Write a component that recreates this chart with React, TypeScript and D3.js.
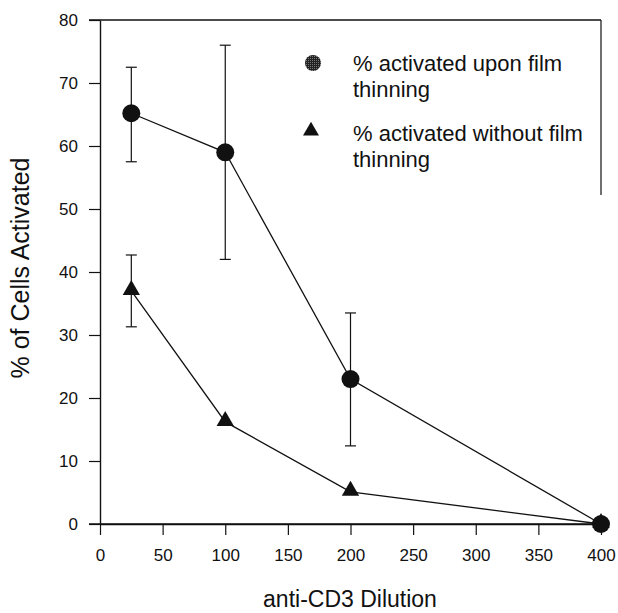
import React, { useEffect, useRef } from 'react';
import * as d3 from 'd3';

// anti-CD3 dilution
const dilutions = [25, 100, 200, 400];
// % activated upon film thinning
const thinningVals = [65.2, 59.0, 23.0, 0];
const thinningLow = [57.5, 42.0, 12.4, null];
const thinningHigh = [72.5, 76.0, 33.5, null];
// % activated without film thinning
const noThinningVals = [37.0, 16.2, 5.1, 0];
const noThinningLow = [31.3, null, null, null];
const noThinningHigh = [42.7, null, null, null];

const xTicks = [0, 50, 100, 150, 200, 250, 300, 350, 400];
const yTicks = [0, 10, 20, 30, 40, 50, 60, 70, 80];

const legendLabels = [
  ['% activated upon film', 'thinning'],
  ['% activated without film', 'thinning'],
];

export default function App() {
  const ref = useRef<SVGSVGElement>(null);

  useEffect(() => {
    const svg = d3.select(ref.current);
    svg.selectAll('*').remove();
    const font = 'Liberation Sans, Arial, Helvetica, sans-serif';

    const x = d3.scaleLinear().domain([0, 400]).range([100, 601]);
    const y = d3.scaleLinear().domain([0, 80]).range([524, 20]);

    // frame: top line and partial right line
    svg.append('line').attr('x1', 89).attr('x2', 601).attr('y1', 20).attr('y2', 20)
      .attr('stroke', '#111').attr('stroke-width', 1.3);
    svg.append('line').attr('x1', 601).attr('x2', 601).attr('y1', 20).attr('y2', 195)
      .attr('stroke', '#111').attr('stroke-width', 1.2);

    // y axis
    const yAxis = svg.append('g').attr('transform', 'translate(100,0)')
      .call(d3.axisLeft(y).tickValues(yTicks).tickSize(11).tickSizeOuter(0).tickPadding(11));
    // x axis
    const xAxis = svg.append('g').attr('transform', 'translate(0,524)')
      .call(d3.axisBottom(x).tickValues(xTicks).tickSize(11).tickSizeOuter(0).tickPadding(14));
    [xAxis, yAxis].forEach(a => {
      a.select('.domain').attr('stroke', '#111').attr('stroke-width', 1.4);
      a.selectAll('.tick line').attr('stroke', '#111').attr('stroke-width', 1.2);
      a.selectAll('.tick text').attr('font-family', font).attr('font-size', 17).attr('fill', '#111');
    });
    // x axis line extends a bit left of origin
    svg.append('line').attr('x1', 89).attr('x2', 601).attr('y1', 524).attr('y2', 524)
      .attr('stroke', '#111').attr('stroke-width', 1.4);

    // axis titles
    svg.append('text').attr('x', 350).attr('y', 607).attr('text-anchor', 'middle')
      .attr('font-family', font).attr('font-size', 23).attr('fill', '#111').text('anti-CD3 Dilution');
    svg.append('text').attr('transform', 'translate(29,268) rotate(-90)').attr('text-anchor', 'middle')
      .attr('font-family', font).attr('font-size', 25).attr('fill', '#111').text('% of Cells Activated');

    const line = d3.line<number>().x((d, i) => x(dilutions[i])).y(d => y(d));
    const tri = d3.symbol().type(d3.symbolTriangle).size(130);

    const drawSeries = (vals: number[], lo: (number | null)[], hi: (number | null)[], kind: string) => {
      const g = svg.append('g');
      g.append('path').attr('d', line(vals)).attr('fill', 'none').attr('stroke', '#111').attr('stroke-width', 1.3);
      vals.forEach((v, i) => {
        const l = lo[i], h = hi[i];
        if (l == null || h == null) return;
        const cx = x(dilutions[i]);
        g.append('line').attr('x1', cx).attr('x2', cx).attr('y1', y(l)).attr('y2', y(h)).attr('stroke', '#111').attr('stroke-width', 1.2);
        [l, h].forEach(e => g.append('line').attr('x1', cx - 5.5).attr('x2', cx + 5.5).attr('y1', y(e)).attr('y2', y(e))
          .attr('stroke', '#111').attr('stroke-width', 1.2));
      });
      vals.forEach((v, i) => {
        if (kind === 'circle') {
          g.append('circle').attr('cx', x(dilutions[i])).attr('cy', y(v)).attr('r', 9).attr('fill', '#111');
        } else {
          g.append('path').attr('d', tri).attr('transform', `translate(${x(dilutions[i])},${y(v) - 1})`).attr('fill', '#111');
        }
      });
    };
    drawSeries(noThinningVals, noThinningLow, noThinningHigh, 'triangle');
    drawSeries(thinningVals, thinningLow, thinningHigh, 'circle');

    // legend
    const defs = svg.append('defs');
    const pat = defs.append('pattern').attr('id', 'dots').attr('width', 2).attr('height', 2).attr('patternUnits', 'userSpaceOnUse');
    pat.append('rect').attr('width', 2).attr('height', 2).attr('fill', '#222');
    pat.append('rect').attr('width', 1).attr('height', 1).attr('fill', '#777');
    svg.append('circle').attr('cx', 313).attr('cy', 63).attr('r', 8).attr('fill', 'url(#dots)');
    svg.append('path').attr('d', d3.symbol().type(d3.symbolTriangle).size(110)).attr('transform', 'translate(311,131)').attr('fill', '#111');
    const baselines = [[71, 97], [141, 167]];
    legendLabels.forEach((lines, k) => {
      lines.forEach((t, j) => {
        svg.append('text').attr('x', 353).attr('y', baselines[k][j]).attr('font-family', font)
          .attr('font-size', 22).attr('fill', '#111').text(t);
      });
    });
  }, []);

  return (
    <svg ref={ref} width={618} height={613} style={{ position: 'absolute', left: 0, top: 0, background: '#fff' }} />
  );
}
